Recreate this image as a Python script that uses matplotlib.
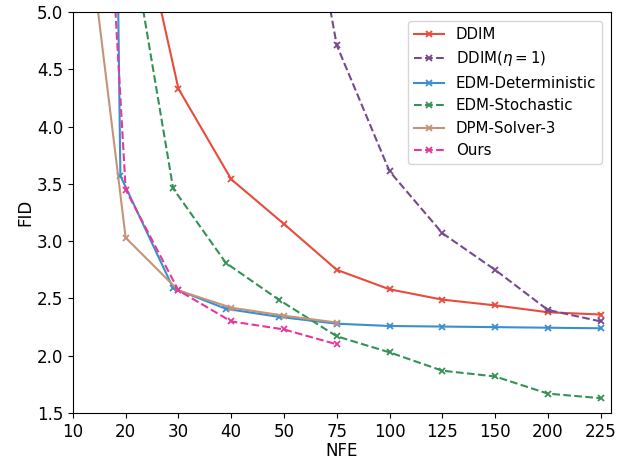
import numpy as np
import matplotlib
matplotlib.use("Agg")
import matplotlib.pyplot as plt

# tick values on the (piecewise, evenly spaced) NFE axis
nfe_ticks = [10, 20, 30, 40, 50, 75, 100, 125, 150, 200, 225]

ddim_x = [20, 30, 40, 50, 75, 100, 125, 150, 200, 225]
ddim_y = [6.40, 4.33, 3.54, 3.15, 2.75, 2.58, 2.49, 2.44, 2.38, 2.36]

ddim_eta_x = [50, 75, 100, 125, 150, 200, 225]
ddim_eta_y = [7.25, 4.71, 3.61, 3.07, 2.75, 2.40, 2.30]

edm_det_x = [9, 19, 29, 39, 49, 75, 100, 125, 150, 200, 225]
edm_det_y = [39.0, 3.57, 2.59, 2.41, 2.34, 2.28, 2.26, 2.255, 2.25, 2.245, 2.24]

edm_sto_x = [19, 29, 39, 49, 75, 100, 125, 150, 200, 225]
edm_sto_y = [6.20, 3.46, 2.81, 2.49, 2.17, 2.03, 1.87, 1.82, 1.67, 1.63]

dpm_x = [10, 20, 30, 40, 50, 75]
dpm_y = [6.80, 3.03, 2.57, 2.42, 2.35, 2.29]

ours_x = [10, 20, 30, 40, 50, 75]
ours_y = [11.5, 3.45, 2.57, 2.30, 2.23, 2.10]

t = np.array(nfe_ticks, float)
p = np.arange(len(t), dtype=float)


def fwd(x):
    x = np.asarray(x, float)
    out = np.asarray(np.interp(x, t, p), float).copy()
    out = np.where(x < t[0], (x - t[0]) / (t[1] - t[0]), out)
    out = np.where(x > t[-1], p[-1] + (x - t[-1]) / (t[-1] - t[-2]), out)
    return out


def inv(u):
    u = np.asarray(u, float)
    out = np.asarray(np.interp(u, p, t), float).copy()
    out = np.where(u < p[0], t[0] + u * (t[1] - t[0]), out)
    out = np.where(u > p[-1], t[-1] + (u - p[-1]) * (t[-1] - t[-2]), out)
    return out


plt.rcParams['font.size'] = 12

fig = plt.figure(figsize=(6.23, 4.59), dpi=100)
ax = fig.add_axes([0.117, 0.100, 0.864, 0.874])
ax.set_xscale('function', functions=(fwd, inv))

kw = dict(marker='x', markersize=4.5, linewidth=1.5, markeredgewidth=1.3)
ax.plot(ddim_x, ddim_y, '-', color='#e74c3c', label='DDIM', **kw)
ax.plot(ddim_eta_x, ddim_eta_y, '--', color='#764a8c', label=r'DDIM($\eta=1$)', **kw)
ax.plot(edm_det_x, edm_det_y, '-', color='#3a8fd0', label='EDM-Deterministic', **kw)
ax.plot(edm_sto_x, edm_sto_y, '--', color='#359155', label='EDM-Stochastic', **kw)
ax.plot(dpm_x, dpm_y, '-', color='#c39479', label='DPM-Solver-3', **kw)
ax.plot(ours_x, ours_y, '--', color='#e8379a', label='Ours', **kw)

ax.set_xticks(nfe_ticks)
ax.set_xticklabels([str(v) for v in nfe_ticks])
ax.minorticks_off()
ax.set_xlim(10, 230)
ax.set_ylim(1.5, 5.0)
ax.set_xlabel('NFE', labelpad=1)
ax.set_ylabel('FID', labelpad=2)
ax.legend(loc='upper right', fontsize=10.8, borderaxespad=0.6)

fig.savefig('out.png', dpi=100)
